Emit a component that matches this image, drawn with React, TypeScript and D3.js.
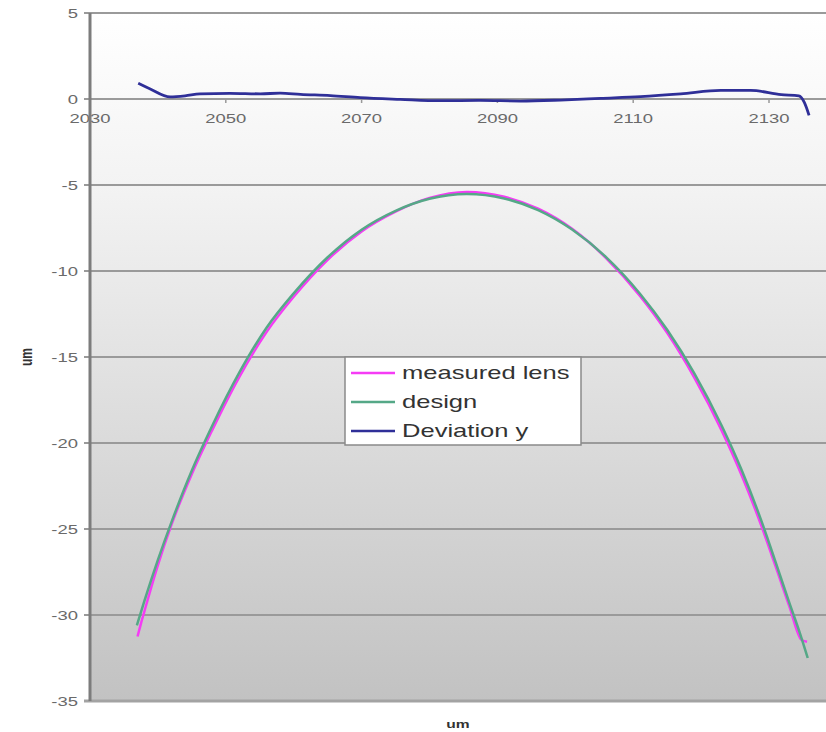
import * as d3 from 'd3';
import React from 'react';

const width = 826;
const height = 732;
const margin = { top: 13, left: 90, bottom: 31 };
const stretch = 1.42; // the picture is stretched sideways, text too

const xTicks = [2030, 2050, 2070, 2090, 2110, 2130];
const yTicks = [5, 0, -5, -10, -15, -20, -25, -30, -35];

const designX = [2036.9, 2038, 2040, 2042, 2045, 2048, 2052, 2056, 2060, 2065, 2070, 2075, 2080, 2085.5, 2091, 2096, 2101, 2106, 2111, 2115, 2119, 2123, 2126, 2129, 2131, 2133, 2134.5, 2135.7];
const designY = [-30.6, -29.2, -26.8, -24.6, -21.6, -19.0, -15.9, -13.3, -11.3, -9.2, -7.6, -6.5, -5.8, -5.52, -5.78, -6.46, -7.59, -9.19, -11.32, -13.42, -15.95, -18.97, -21.6, -24.66, -26.96, -29.3, -31.0, -32.5];

const measuredX = [2037.0, 2037.5, 2038, 2040, 2042, 2045, 2048, 2052, 2056, 2060, 2065, 2070, 2075, 2080, 2085.5, 2091, 2096, 2101, 2106, 2111, 2115, 2119, 2123, 2126, 2129, 2131, 2133, 2134.8, 2135.6];
const measuredY = [-31.25, -30.5, -29.8, -27.1, -24.75, -21.8, -19.25, -16.15, -13.55, -11.5, -9.35, -7.7, -6.55, -5.75, -5.4, -5.68, -6.38, -7.55, -9.25, -11.45, -13.6, -16.2, -19.25, -21.9, -24.95, -27.2, -29.5, -31.45, -31.55];

const deviationX = [2037.1, 2038.8, 2041.8, 2044, 2046.2, 2050.6, 2055.1, 2058, 2061, 2065.4, 2069.8, 2075.7, 2081.6, 2087.5, 2093.4, 2099.3, 2105.2, 2111.1, 2117, 2122.9, 2127.3, 2131.8, 2134.4, 2135.2, 2135.9];
const deviationY = [0.92, 0.6, 0.12, 0.18, 0.3, 0.33, 0.3, 0.34, 0.27, 0.2, 0.08, -0.02, -0.1, -0.08, -0.12, -0.06, 0.04, 0.14, 0.3, 0.5, 0.5, 0.25, 0.18, -0.2, -0.95];

const series = [
  { name: 'measured lens', xs: measuredX, ys: measuredY, color: '#f53cf5', w: 2.5 },
  { name: 'design', xs: designX, ys: designY, color: '#55a887', w: 2.5 },
  { name: 'Deviation y', xs: deviationX, ys: deviationY, color: '#2f2f98', w: 2.8 },
];

const font = 'Liberation Sans, Arial, sans-serif';

const App = () => {
  const xScale = d3.scaleLinear().domain([2030, 2140]).range([margin.left, margin.left + 110 * 6.79]);
  const yScale = d3.scaleLinear().domain([-35, 5]).range([height - margin.bottom, margin.top]);

  const lineGen = d3.line<number>().curve(d3.curveMonotoneX);

  const pathFor = (s) => {
    const pts = s.xs.map((x, i) => [xScale(x), yScale(s.ys[i])]);
    return lineGen(pts as any);
  };

  const plotTop = yScale(5);
  const plotBottom = yScale(-35);

  return (
    <svg width={width} height={height} style={{ position: 'absolute', left: 0, top: 0 }}>
      <defs>
        <linearGradient id="bg" x1="0" y1="0" x2="0" y2="1">
          <stop offset="0%" stopColor="#ffffff" />
          <stop offset="25%" stopColor="#f3f3f3" />
          <stop offset="100%" stopColor="#c2c2c2" />
        </linearGradient>
      </defs>
      <rect x={0} y={0} width={width} height={height} fill="#fff" />
      <rect x={margin.left} y={plotTop} width={width - margin.left} height={plotBottom - plotTop} fill="url(#bg)" />

      {yTicks.map((t) => (
        <g key={t}>
          <line x1={margin.left - 6} x2={width} y1={yScale(t)} y2={yScale(t)}
            stroke={t === -35 ? '#a3a3a3' : '#9a9a9a'} strokeWidth={t === -35 ? 3 : 2} />
          <text transform={`translate(78, ${yScale(t) + 5}) scale(${stretch},1)`} textAnchor="end"
            fontFamily={font} fontSize={13} fill="#6a6a6a">{t}</text>
        </g>
      ))}

      {xTicks.map((t) => (
        <g key={t}>
          <line x1={xScale(t)} x2={xScale(t)} y1={yScale(0)} y2={yScale(0) + 4} stroke="#999" strokeWidth={1.5} />
          <text transform={`translate(${xScale(t)}, ${yScale(0) + 24}) scale(${stretch},1)`} textAnchor="middle"
            fontFamily={font} fontSize={13} fill="#6a6a6a">{t}</text>
        </g>
      ))}

      <line x1={margin.left} x2={margin.left} y1={plotTop} y2={plotBottom} stroke="#7c7c7c" strokeWidth={3} />

      {series.map((s) => (
        <path key={s.name} d={pathFor(s)} fill="none" stroke={s.color} strokeWidth={s.w} strokeLinejoin="round" />
      ))}

      <g transform="translate(345, 357)">
        <rect x={0} y={0} width={236} height={88} fill="#fff" stroke="#8a8a8a" strokeWidth={1.5} />
        {series.map((s, i) => (
          <g key={s.name} transform={`translate(0, ${16 + i * 29})`}>
            <line x1={6} x2={50} y1={0} y2={0} stroke={s.color} strokeWidth={2.5} />
            <text transform={`translate(57, 6) scale(${stretch},1)`} fontFamily={font} fontSize={18} fill="#333">{s.name}</text>
          </g>
        ))}
      </g>

      <text transform={`translate(32, 357) rotate(-90) scale(1,${stretch})`} textAnchor="middle"
        fontFamily={font} fontSize={12} fontWeight="bold" fill="#333">um</text>
      <text transform={`translate(458, 728) scale(${stretch},1)`} textAnchor="middle"
        fontFamily={font} fontSize={11} fontWeight="bold" fill="#333">um</text>
    </svg>
  );
};

export default App;
